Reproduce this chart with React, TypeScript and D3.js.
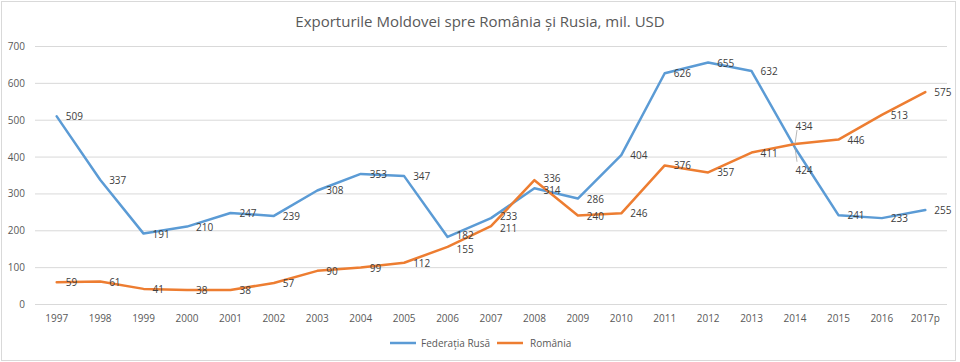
import * as d3 from "d3";
import { useEffect, useRef } from "react";

const years = [
  "1997", "1998", "1999", "2000", "2001", "2002", "2003", "2004", "2005", "2006", "2007",
  "2008", "2009", "2010", "2011", "2012", "2013", "2014", "2015", "2016", "2017p",
];
const russia = [509, 337, 191, 210, 247, 239, 308, 353, 347, 182, 233, 314, 286, 404, 626, 655, 632, 424, 241, 233, 255];
const romania = [59, 61, 41, 38, 38, 57, 90, 99, 112, 155, 211, 336, 240, 246, 376, 357, 411, 434, 446, 513, 575];
const yTicks = [0, 100, 200, 300, 400, 500, 600, 700];

const series = [
  { name: "Federația Rusă", values: russia, color: "#5B9BD5" },
  { name: "România", values: romania, color: "#ED7D31" },
];

const W = 960;
const H = 362;
const FONT = "'Open Sans', sans-serif";

export default function App() {
  const ref = useRef<SVGSVGElement>(null);

  useEffect(() => {
    if (!ref.current) return;
    const svg = d3.select(ref.current);
    svg.selectAll("*").remove();

    const left = 35, right = 947, top = 46, bottom = 304;

    const x = d3.scaleBand().domain(years).range([left, right]);
    const y = d3.scaleLinear().domain([0, 700]).range([bottom, top]);
    const cx = (d: string) => (x(d) ?? 0) + x.bandwidth() / 2;

    svg.append("rect")
      .attr("x", 1.5).attr("y", 1.5)
      .attr("width", W - 6).attr("height", H - 3)
      .attr("fill", "#fff").attr("stroke", "#d9d9d9");

    svg.append("text")
      .attr("x", 480).attr("y", 27)
      .attr("text-anchor", "middle")
      .attr("font-family", FONT).attr("font-size", 15)
      .attr("fill", "#595959")
      .text("Exporturile Moldovei spre România și Rusia, mil. USD");

    // grid
    svg.append("g").selectAll("line").data(yTicks).join("line")
      .attr("x1", left).attr("x2", right)
      .attr("y1", (d) => y(d) + 0.5).attr("y2", (d) => y(d) + 0.5)
      .attr("stroke", "#d9d9d9");

    svg.append("g").selectAll("text").data(yTicks).join("text")
      .attr("x", 25).attr("y", (d) => y(d) + 4)
      .attr("text-anchor", "end")
      .attr("font-family", FONT).attr("font-size", 10)
      .attr("fill", "#595959")
      .text((d) => d);

    svg.append("g").selectAll("text").data(years).join("text")
      .attr("x", (d) => cx(d)).attr("y", 322)
      .attr("text-anchor", "middle")
      .attr("font-family", FONT).attr("font-size", 10)
      .attr("fill", "#595959")
      .text((d) => d);

    const line = d3.line<number>()
      .x((_, i) => cx(years[i]))
      .y((d) => y(d));

    series.forEach((s) => {
      svg.append("path")
        .datum(s.values)
        .attr("d", line)
        .attr("fill", "none")
        .attr("stroke", s.color)
        .attr("stroke-width", 2.5)
        .attr("stroke-linejoin", "round")
        .attr("stroke-linecap", "round");
    });

    // labels moved off the point (2014, with leader lines)
    const moved: Record<string, number> = { "Federația Rusă-17": 22, "România-17": -18 };
    // small nudges where two labels nearly touch
    const nudge: Record<string, number> = {
      "Federația Rusă-9": -2, "România-9": 2,
      "Federația Rusă-10": -2, "România-10": 2,
      "Federația Rusă-11": 2, "România-11": -2,
    };

    series.forEach((s) => {
      s.values.forEach((v, i) => {
        const key = `${s.name}-${i}`;
        const px = cx(years[i]);
        const py = y(v);
        if (moved[key] !== undefined) {
          const ly = py + moved[key];
          svg.append("line")
            .attr("x1", px).attr("y1", py)
            .attr("x2", px + 2).attr("y2", ly + (moved[key] > 0 ? -8 : 4))
            .attr("stroke", "#a6a6a6").attr("stroke-width", 0.8);
          svg.append("text")
            .attr("x", px + 9).attr("y", ly + 4)
            .attr("text-anchor", "middle")
            .attr("font-family", FONT).attr("font-size", 10)
            .attr("fill", "#404040")
            .text(v);
        } else {
          svg.append("text")
            .attr("x", px + 9).attr("y", py + 4 + (nudge[key] ?? 0))
            .attr("font-family", FONT).attr("font-size", 10)
            .attr("fill", "#404040")
            .text(v);
        }
      });
    });

    // legend
    const legend = [
      { x1: 390, tx: 421 },
      { x1: 497, tx: 530 },
    ];
    series.forEach((s, i) => {
      const l = legend[i];
      svg.append("line")
        .attr("x1", l.x1).attr("x2", l.x1 + 26)
        .attr("y1", 343).attr("y2", 343)
        .attr("stroke", s.color).attr("stroke-width", 2.5);
      svg.append("text")
        .attr("x", l.tx).attr("y", 346.5)
        .attr("font-family", FONT).attr("font-size", 10)
        .attr("fill", "#595959")
        .text(s.name);
    });
  }, []);

  return (
    <div style={{ position: "fixed", left: 0, top: 0 }}>
      <svg ref={ref} width={W} height={H} style={{ display: "block" }} />
    </div>
  );
}
